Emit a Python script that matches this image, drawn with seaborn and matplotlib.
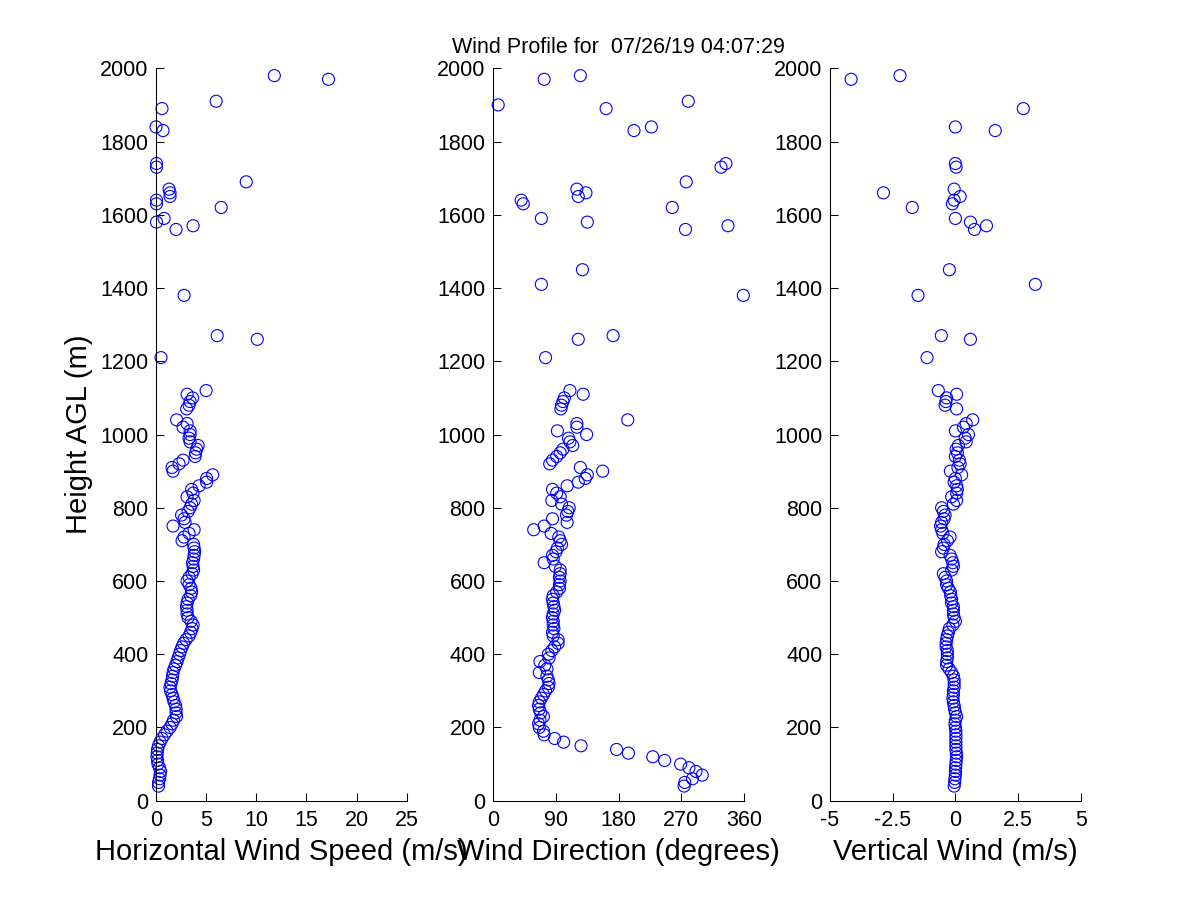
import numpy as np
import pandas as pd
import matplotlib
matplotlib.use("Agg")
import matplotlib.pyplot as plt
import seaborn as sns

sns.set_style("white", rc={"axes.edgecolor": "black", "xtick.color": "black",
                           "ytick.color": "black", "text.color": "black",
                           "axes.labelcolor": "black"})
plt.rcParams["font.family"] = ["Liberation Sans", "DejaVu Sans"]

nan = np.nan

# Range gate heights (m AGL)
heights = [40, 50, 60, 70, 80, 90, 100, 110, 120, 130, 140, 150, 160, 170, 180, 190,
           200, 210, 220, 230, 240, 250, 260, 270, 280, 290, 300, 310, 320, 330, 340,
           350, 360, 370, 380, 390, 400, 410, 420, 430, 440, 450, 460, 470, 480, 490,
           500, 510, 520, 530, 540, 550, 560, 570, 580, 590, 600, 610, 620, 630, 640,
           650, 660, 670, 680, 690, 700, 710, 720, 730, 740, 750, 760, 770, 780, 790,
           800, 810, 820, 830, 840, 850, 860, 870, 880, 890, 900, 910, 920, 930, 940,
           950, 960, 970, 980, 990, 1000, 1010, 1020, 1030, 1040, 1070, 1080, 1090,
           1100, 1110, 1120,
           1210, 1260, 1270, 1380, 1410, 1450, 1560, 1570, 1580, 1590, 1620, 1630,
           1640, 1650, 1660, 1670, 1690, 1730, 1740, 1830, 1840, 1890, 1900, 1910,
           1970, 1980]

# Horizontal wind speed (m/s)
speed = [0.25, 0.25, 0.35, 0.4, 0.45, 0.35, 0.2, 0.15, 0.1, 0.12, 0.15, 0.25, 0.4, 0.6,
         0.85, 1.1, 1.4, 1.6, 1.75, 2.05, 2.0, 2.0, 1.95, 1.8, 1.7, 1.6, 1.45, 1.4, 1.5,
         1.6, 1.65, 1.7, 1.8, 1.95, 2.1, 2.2, 2.35, 2.45, 2.6, 2.75, 3.0, 3.3, 3.45, 3.6,
         3.7, 3.5, 3.2, 3.1, 3.1, 3.05, 3.1, 3.2, 3.45, 3.55, 3.5, 3.3, 3.1, 3.3, 3.6,
         3.75, 3.7, 3.65, 3.75, 3.8, 3.85, 3.8, 3.75, 2.6, 2.8, 3.3, 3.8, 1.7, 2.9, 2.8,
         2.55, 3.2, 3.4, 3.55, 3.8, 3.1, 3.7, 3.55, 4.3, 5.05, 5.05, 5.65, 1.7, 1.6, 2.3,
         2.7, 3.9, 3.95, 4.05, 4.2, 3.4, 3.3, 3.4, 3.4, 2.7, 3.1, 2.06, 3.06, 3.3, 3.4,
         3.65, 3.1, 5.0,
         0.5, 10.1, 6.1, 2.8, nan, nan, 2.0, 3.7, 0.05, 0.8, 6.5, 0.05,
         0.05, 1.4, 1.4, 1.3, 9.0, 0.05, 0.05, 0.7, 0.0, 0.6, nan, 6.0,
         17.2, 11.8]

# Wind direction (degrees)
direction = [274, 275, 286, 300, 291, 281, 269, 246, 229, 194, 177, 126, 101, 88, 73, 72,
             66, 65, 67, 72, 68, 66, 65, 66, 69, 72, 75, 79, 80, 79, 77,
             66, 77, 74, 67, 80, 79, 84, 88, 93, 93, 86, 85, 87, 86, 86,
             85, 86, 88, 87, 86, 85, 86, 91, 95, 95, 96, 95, 96, 96, 89,
             73, 86, 85, 90, 92, 98, 96, 94, 83, 58, 73, 106, 85, 105, 107,
             109, 98, 84, 96, 91, 85, 106, 122, 132, 135, 157, 125, 81, 85, 91,
             96, 100, 114, 110, 108, 134, 92, 120, 120, 193, 97, 98, 100,
             102, 129, 110,
             75, 122, 172, 359, 69, 128, 276, 337, 135, 69, 257, 43,
             40, 122, 133, 120, 277, 327, 334, 202, 227, 162, 7, 280,
             73, 125]

# Vertical wind (m/s)
vertical = [-0.05, -0.03, -0.02, 0.0, 0.0, 0.01, 0.02, 0.03, 0.05, 0.04, 0.02, 0.02,
            0.02, 0.02, 0.02, 0.02, 0.0, -0.02, 0.0, 0.05, 0.0, -0.03, -0.05, -0.08,
            -0.1, -0.08, -0.08, -0.05, -0.05, -0.05, -0.08, -0.15, -0.25, -0.35, -0.35,
            -0.32, -0.32, -0.32, -0.37, -0.37, -0.35, -0.32, -0.28, -0.24, -0.1, 0.0,
            -0.05, -0.08, -0.08, -0.08, -0.15, -0.15, -0.19, -0.2, -0.28, -0.35, -0.35,
            -0.41, -0.48, -0.15, -0.08, -0.1, -0.15, -0.21, -0.55, -0.48, -0.45, -0.32,
            -0.21, -0.5, -0.55, -0.59, -0.55, -0.45, -0.41, -0.48, -0.55, -0.08, 0.05,
            -0.15, 0.05, 0.08, 0.05, -0.05, 0.0, 0.25, -0.2, 0.1, 0.19, 0.16, 0.0,
            0.08, 0.03, 0.12, 0.43, 0.39, 0.52, 0.0, 0.32, 0.43, 0.69, 0.05, -0.41,
            -0.38, -0.35, 0.05, -0.68,
            -1.13, 0.6, -0.56, -1.49, 3.19, -0.24, 0.76, 1.24, 0.6, 0.0, -1.72, -0.12,
            -0.05, 0.19, -2.87, -0.05, nan, 0.03, 0.0, 1.59, 0.0, 2.71, nan, nan,
            -4.16, -2.21]

speed_ticks = [0, 5, 10, 15, 20, 25]
speed_labels = ["0", "5", "10", "15", "20", "25"]
dir_ticks = [0, 90, 180, 270, 360]
dir_labels = ["0", "90", "180", "270", "360"]
vert_ticks = [-5, -2.5, 0, 2.5, 5]
vert_labels = ["-5", "-2.5", "0", "2.5", "5"]
height_ticks = [0, 200, 400, 600, 800, 1000, 1200, 1400, 1600, 1800, 2000]
height_labels = ["0", "200", "400", "600", "800", "1000", "1200", "1400", "1600",
                 "1800", "2000"]

df = pd.DataFrame({"height": heights, "speed": speed,
                   "direction": direction, "vertical": vertical})

panels = [
    ("speed", "Horizontal Wind Speed (m/s)", speed_ticks, speed_labels, (0, 25)),
    ("direction", "Wind Direction (degrees)", dir_ticks, dir_labels, (0, 360)),
    ("vertical", "Vertical Wind (m/s)", vert_ticks, vert_labels, (-5, 5)),
]
lefts = [0.13, 0.4111, 0.6917]

fig = plt.figure(figsize=(12, 9), dpi=100)
axes = []
for left, (col, xlabel, xt, xl, xlim) in zip(lefts, panels):
    ax = fig.add_axes([left, 0.1103, 0.2089, 0.8138])
    sns.scatterplot(data=df, x=col, y="height", ax=ax, marker="o", s=75,
                    color="#0000ff", facecolor="none", edgecolor="#0000ff",
                    linewidth=0.8, clip_on=False, legend=False)
    for c in ax.collections:
        c.set_facecolor("none")
        c.set_edgecolor("#0000ff")
        c.set_clip_on(False)
    ax.set_xlim(*xlim)
    ax.set_ylim(0, 2000)
    ax.set_xticks(xt)
    ax.set_xticklabels(xl)
    ax.set_yticks(height_ticks)
    ax.set_yticklabels(height_labels)
    sns.despine(ax=ax)
    for s in ("left", "bottom"):
        ax.spines[s].set_linewidth(0.75)
        ax.spines[s].set_color("black")
    ax.tick_params(axis="both", direction="in", length=5.5, width=0.75,
                   labelsize=15.5, colors="black")
    ax.tick_params(axis="x", pad=7, bottom=True, top=False)
    ax.tick_params(axis="y", pad=5.5, left=True, right=False)
    ax.set_xlabel(xlabel, fontsize=21, labelpad=5)
    ax.set_ylabel("")
    ax.grid(False)
    axes.append(ax)

axes[0].set_ylabel("Height AGL (m)", fontsize=21, labelpad=5)
axes[1].set_title("Wind Profile for  07/26/19 04:07:29", fontsize=15.5, pad=11)

fig.savefig("out.png", dpi=100, facecolor="white")
